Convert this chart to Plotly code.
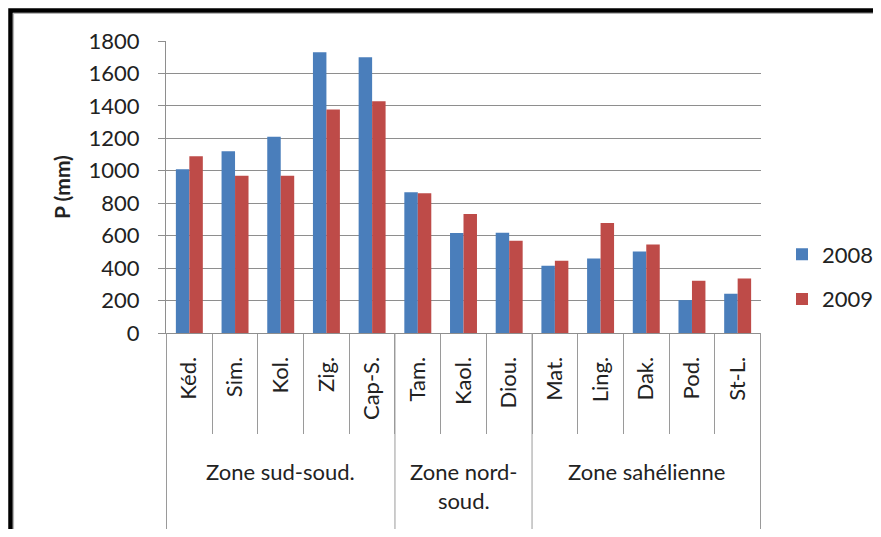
import plotly.graph_objects as go

# ── données ───────────────────────────────────────────────────────────────────
stations = ["Kéd.", "Sim.", "Kol.", "Zig.", "Cap-S.", "Tam.", "Kaol.", "Diou.",
            "Mat.", "Ling.", "Dak.", "Pod.", "St-L."]
zone_noms = ["Zone sud-soud.", "Zone nord-<br>soud.", "Zone sahélienne"]
zone_nb = [5, 3, 5]          # nombre de stations par zone
p2008 = [1010, 1120, 1210, 1730, 1700, 867, 617, 618, 414, 459, 502, 203, 242]
p2009 = [1090, 970, 970, 1377, 1428, 861, 733, 569, 445, 678, 545, 322, 336]

BLEU = "#4A7EBB"
ROUGE = "#BE4B48"
GRIS = "#9a9a9a"
FONT = "Lato, 'Open Sans', sans-serif"

fig = go.Figure()
fig.add_trace(go.Bar(x=stations, y=p2008, name="2008",
                     marker=dict(color=BLEU, line=dict(width=0)),
                     legendgroup="a"))
fig.add_trace(go.Bar(x=stations, y=p2009, name="2009",
                     marker=dict(color=ROUGE, line=dict(width=0)),
                     legendgroup="b"))

# géométrie (pixels de la page) ; le body a une marge de 8 px autour du graphique
OFF = 8
W, H = 881 - 2 * OFF, 537 - 2 * OFF
X0, X1, Y0, Y1 = 166, 761, 41, 333          # zone de tracé dans la page
L, R, T, B = X0 - OFF, W - (X1 - OFF), Y0 - OFF, H - (Y1 - OFF)
pw, ph = X1 - X0, Y1 - Y0
def px(x): return (x - X0) / pw
def py(y): return (Y1 - y) / ph

# cadre noir du document
shapes = [
    dict(type="rect", xref="paper", yref="paper",
         x0=px(10.5), y0=py(10.5), x1=px(900), y1=py(560),
         line=dict(color="black", width=4.5), layer="above"),
    dict(type="rect", xref="paper", yref="paper",
         x0=px(13.5), y0=py(13.5), x1=px(900), y1=py(560),
         line=dict(color="#b5b5b5", width=1.2), layer="above"),
]

# séparateurs de zones + étiquettes de zones
annotations = []
debut = 0
bornes = [-0.5]
for nom, n in zip(zone_noms, zone_nb):
    centre = debut + (n - 1) / 2
    annotations.append(dict(
        text=nom, x=centre, xref="x", y=py(456), yref="paper",
        xanchor="center", yanchor="top", showarrow=False,
        font=dict(size=22, color="#222"), align="center"))
    debut += n
    bornes.append(debut - 0.5)
for b in bornes:
    shapes.append(dict(type="line", xref="x", yref="paper",
                       x0=b, x1=b, y0=0, y1=py(530),
                       line=dict(color=GRIS, width=1)))

fig.update_layout(
    width=W, height=H,
    margin=dict(l=L, r=R, t=T, b=B, autoexpand=False),
    paper_bgcolor="white", plot_bgcolor="white",
    font=dict(family=FONT, size=21, color="#222"),
    barmode="group", bargap=0.41, bargroupgap=0,
    showlegend=True,
    legend=dict(x=px(782), y=py(277), xanchor="left", yanchor="middle",
                font=dict(size=22), tracegroupgap=13, itemwidth=30),
    xaxis=dict(type="category", showgrid=False, automargin=False,
               showline=True, linecolor="#8e8e8e", linewidth=1,
               ticks="outside", tickson="boundaries", ticklen=100,
               tickcolor=GRIS, tickwidth=1, tickangle=-90,
               ticklabelstandoff=14,
               tickfont=dict(size=22)),
    yaxis=dict(range=[0, 1800], dtick=200, showgrid=True, automargin=False,
               gridcolor="#8e8e8e", gridwidth=1,
               showline=True, linecolor="#8e8e8e", linewidth=1,
               ticks="outside", ticklen=7, tickcolor="#8e8e8e",
               zeroline=False, ticklabelstandoff=14,
               title=dict(text="<b>P (mm)</b>", font=dict(size=21), standoff=12),
               tickfont=dict(size=22)),
    shapes=shapes,
    annotations=annotations,
)

fig.write_html("out.html")
